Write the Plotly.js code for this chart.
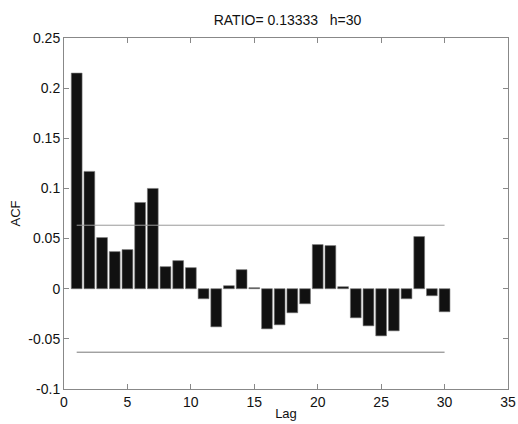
<!DOCTYPE html>
<html><head><meta charset="utf-8">
<script src="https://cdn.plot.ly/plotly-3.0.1.min.js"></script>
<style>html,body{margin:0;padding:0;background:#fff}#c{width:518px;height:424px}</style>
</head><body><div id="c"></div>
<script>
const lags = [1,2,3,4,5,6,7,8,9,10,11,12,13,14,15,16,17,18,19,20,21,22,23,24,25,26,27,28,29,30];
const acf = [0.215,0.117,0.051,0.037,0.039,0.086,0.100,0.022,0.028,0.021,-0.010,-0.038,0.003,0.019,0.001,-0.040,-0.036,-0.024,-0.015,0.044,0.043,0.002,-0.029,-0.037,-0.047,-0.042,-0.010,0.052,-0.007,-0.023];
const bound = 0.0633;
const boundX = [1,30];
const yTicks = [-0.1,-0.05,0,0.05,0.1,0.15,0.2,0.25];
const yTickText = ["-0.1","-0.05","0","0.05","0.1","0.15","0.2","0.25"];
const xTicks = [0,5,10,15,20,25,30,35];
const titleText = "RATIO= 0.13333&nbsp;&nbsp;&nbsp;h=30";
const FONT = 'Liberation Sans, Arial, sans-serif';

const traces = [
  {type:'bar', x:lags, y:acf, width:0.85, marker:{color:'#111111', line:{color:'#777777', width:0.6}}, hoverinfo:'x+y'},
  {type:'scatter', mode:'lines', x:boundX, y:[bound,bound], line:{color:'#999999', width:1}},
  {type:'scatter', mode:'lines', x:boundX, y:[-bound,-bound], line:{color:'#777777', width:1}}
];
const axisCommon = {showline:true, mirror:'ticks', linecolor:'#888888', linewidth:1, ticks:'inside', ticklen:5, tickcolor:'#888888', showgrid:false, zeroline:false, tickfont:{family:FONT, size:14, color:'#111'}};
const layout = {
  width:518, height:424,
  margin:{l:64, r:10, t:38, b:35},
  paper_bgcolor:'#fff', plot_bgcolor:'#fff',
  showlegend:false, bargap:0,
  title:{text:titleText, x:0.555, xanchor:'center', y:0.953, yanchor:'middle', font:{family:FONT, size:14, color:'#111'}},
  xaxis:Object.assign({}, axisCommon, {range:[0,35], tickvals:xTicks, ticktext:xTicks.map(String), title:{text:'Lag', standoff:0, font:{family:FONT, size:13, color:'#111'}}}),
  yaxis:Object.assign({}, axisCommon, {range:[-0.1,0.25], tickvals:yTicks, ticktext:yTickText, title:{text:'ACF', standoff:4, font:{family:FONT, size:13, color:'#111'}}})
};
Plotly.newPlot('c', traces, layout, {displayModeBar:false, staticPlot:true});
</script></body></html>
